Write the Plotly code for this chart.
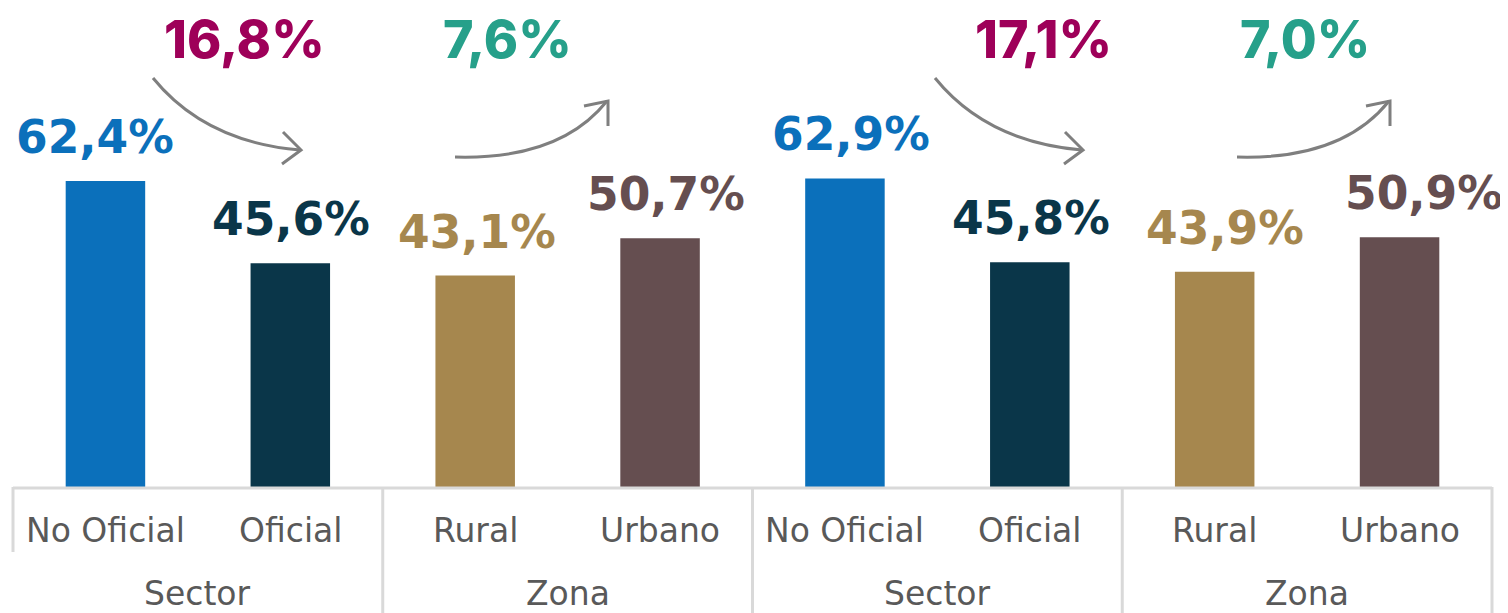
import plotly.graph_objects as go

groups = ["Sector", "Sector", "Zona", "Zona", "Sector ", "Sector ", "Zona ", "Zona "]
categories = ["No Oficial", "Oficial", "Rural", "Urbano", "No Oficial", "Oficial", "Rural", "Urbano"]
values = [62.4, 45.6, 43.1, 50.7, 62.9, 45.8, 43.9, 50.9]
colors = ["#0B70BB", "#0A3649", "#A6874E", "#654E50", "#0B70BB", "#0A3649", "#A6874E", "#654E50"]
value_labels = ["62,4%", "45,6%", "43,1%", "50,7%", "62,9%", "45,8%", "43,9%", "50,9%"]
group_labels = ["Sector", "Zona", "Sector", "Zona"]

gap_labels = ["16,8%", "7,6%", "17,1%", "7,0%"]
gap_colors = ["#9E0059", "#26A08A", "#9E0059", "#26A08A"]

# horizontal nudges of the value labels (pixels), as placed in the original
label_nudge = [-10, 1, 2, 6, 6, 1, 10, 24]

OFF = 8  # page body margin
W, H = 1500, 605
L, R, T, B = 5, 16, 0, 126
PW, PH = W - L - R, H - T - B
GRID = "#D9D9D9"
TXT = "#595959"
FONT = "Verdana, DejaVu Sans"

def px(x):
    return (x - OFF - L) / PW

def py(y):
    return (OFF + T + PH - y) / PH

fig = go.Figure()
fig.add_trace(go.Bar(
    x=[groups, categories], y=values,
    marker=dict(color=colors, line=dict(width=0)),
    width=0.43, hoverinfo="skip",
))

n = len(categories)
for i, (g, c, v, t, col, nd) in enumerate(zip(groups, categories, values, value_labels, colors, label_nudge)):
    fig.add_annotation(
        x=[g, c], y=v, text=t, showarrow=False, yanchor="bottom", yshift=15, xshift=nd,
        font=dict(family=FONT, size=45.5, color=col, weight="bold"),
    )
    fig.add_annotation(
        x=(i + 0.5) / n, xref="x domain", y=py(530), yref="paper", text=c,
        showarrow=False, xanchor="center", yanchor="middle",
        font=dict(family=FONT, size=33, color=TXT),
    )

ng = len(group_labels)
for k, gl in enumerate(group_labels):
    fig.add_annotation(
        x=(k + 0.5) / ng, xref="x domain", y=py(593), yref="paper", text=gl,
        showarrow=False, xanchor="center", yanchor="middle",
        font=dict(family=FONT, size=33, color=TXT),
    )

for k in range(ng + 1):
    y1 = py(552) if k == 0 else py(620)
    fig.add_shape(type="line", xref="x domain", yref="paper",
                  x0=k / ng, x1=k / ng, y0=py(487), y1=y1,
                  line=dict(color=GRID, width=3))
fig.add_shape(type="line", xref="x domain", yref="paper",
              x0=0, x1=1, y0=py(488), y1=py(488),
              line=dict(color=GRID, width=3))

gap_pos = [(244, 39.5), (507, 39.5), (1043, 39.5), (1305, 39.5)]
for (gx, gy), t, col in zip(gap_pos, gap_labels, gap_colors):
    fig.add_annotation(
        x=px(gx), y=py(gy), xref="paper", yref="paper", text=t, showarrow=False,
        xanchor="center", yanchor="middle",
        font=dict(family="Inter", size=52, color=col, weight=800),
    )

def curve(p0, c, p1):
    return (f"M {px(p0[0])},{py(p0[1])} Q {px(c[0])},{py(c[1])} {px(p1[0])},{py(p1[1])}")

def head(a, tip, b):
    return (f"M {px(a[0])},{py(a[1])} L {px(tip[0])},{py(tip[1])} L {px(b[0])},{py(b[1])}")

ARROW = dict(color="#7F7F7F", width=3)
for dx in (0, 782):
    fig.add_shape(type="path", xref="paper", yref="paper",
                  path=curve((153 + dx, 78), (205 + dx, 142), (300 + dx, 150)), line=ARROW)
    fig.add_shape(type="path", xref="paper", yref="paper",
                  path=head((283 + dx, 132), (301 + dx, 150), (282 + dx, 164)), line=ARROW)
    fig.add_shape(type="path", xref="paper", yref="paper",
                  path=curve((455 + dx, 157), (560 + dx, 160), (607 + dx, 101)), line=ARROW)
    fig.add_shape(type="path", xref="paper", yref="paper",
                  path=head((584 + dx, 106), (608 + dx, 101), (608 + dx, 126)), line=ARROW)

fig.update_layout(
    width=W, height=H,
    margin=dict(l=L, r=R, t=T, b=B, pad=0, autoexpand=False),
    paper_bgcolor="white", plot_bgcolor="white",
    showlegend=False,
    font=dict(family=FONT, color=TXT),
)
fig.update_xaxes(
    type="multicategory", showline=False, showticklabels=False, showdividers=False,
    showgrid=False, ticks="", range=[-0.5, 7.5], automargin=False,
)
fig.update_yaxes(range=[0, 97.65], visible=False, showgrid=False, zeroline=False)

fig.write_html("out.html")
